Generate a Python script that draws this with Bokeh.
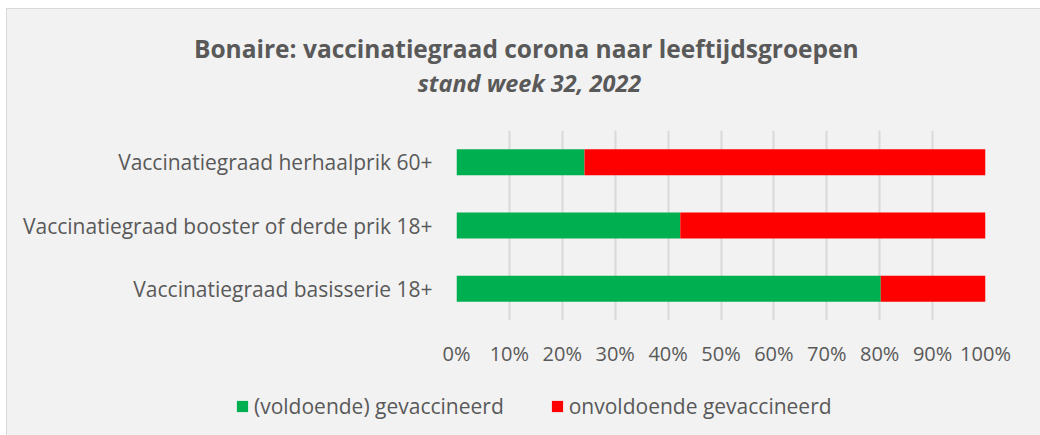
from bokeh.plotting import figure
from bokeh.layouts import column
from bokeh.models import (FactorRange, Range1d, PrintfTickFormatter, FixedTicker,
                          Legend, LegendItem, Label, ColumnDataSource)
from bokeh.embed import file_html
from bokeh.resources import INLINE

categories = ["Vaccinatiegraad basisserie 18+",
              "Vaccinatiegraad booster of derde prik 18+",
              "Vaccinatiegraad herhaalprik 60+"]
gevaccineerd = [80.2, 42.3, 24.2]
onvoldoende = [19.8, 57.7, 75.8]
series = ["(voldoende) gevaccineerd", "onvoldoende gevaccineerd"]
colors = ["#00b050", "#ff0000"]
x_ticks = [0, 10, 20, 30, 40, 50, 60, 70, 80, 90, 100]
title_text = "Bonaire: vaccinatiegraad corona  naar leeftijdsgroepen"
subtitle_text = "stand week 32, 2022"

FONT = "Open Sans"
TXT = "#595959"
BG = "#f2f2f2"
W = 1033


def blank(height):
    f = figure(width=W, height=height, x_range=Range1d(0, W), y_range=Range1d(0, height),
               output_backend="svg", toolbar_location=None, frame_align=False,
               min_border_left=0, min_border_right=0, min_border_top=0, min_border_bottom=0)
    f.axis.visible = False
    f.grid.visible = False
    f.background_fill_color = BG
    f.border_fill_color = BG
    f.outline_line_color = None
    return f


# ---- titles ----
tf = blank(111)
tf.add_layout(Label(x=522, y=72, text=title_text, text_align="center",
                    text_baseline="middle", text_font=FONT, text_font_style="bold",
                    text_font_size="24.5px", text_color=TXT))
tf.add_layout(Label(x=522, y=38, text=subtitle_text, text_align="center",
                    text_baseline="middle", text_font=FONT,
                    text_font_style="bold italic",
                    text_font_size="23.5px", text_color=TXT))

# ---- main chart ----
source = ColumnDataSource(dict(cat=categories, g=gevaccineerd, o=onvoldoende))

p = figure(width=W, height=261,
           y_range=FactorRange(*categories, range_padding=0),
           x_range=Range1d(0, 100),
           output_backend="svg", toolbar_location=None, frame_align=False,
           min_border_left=449, min_border_right=55,
           min_border_top=10, min_border_bottom=61)
p.background_fill_color = BG
p.border_fill_color = BG
p.outline_line_color = None

rs = p.hbar_stack(["g", "o"], y="cat", height=0.41, color=colors,
                  line_color=None, source=source)

p.xgrid.ticker = FixedTicker(ticks=x_ticks)
p.xgrid.grid_line_color = "#d9d9d9"
p.xgrid.grid_line_width = 2
p.ygrid.grid_line_color = None

p.xaxis.ticker = FixedTicker(ticks=x_ticks)
p.xaxis.formatter = PrintfTickFormatter(format="%d%%")
p.xaxis.axis_line_color = None
p.xaxis.major_tick_line_color = None
p.xaxis.minor_tick_line_color = None
p.xaxis.major_label_standoff = 13
p.xaxis.major_label_text_font = FONT
p.xaxis.major_label_text_font_size = "20px"
p.xaxis.major_label_text_color = TXT

p.yaxis.axis_line_color = None
p.yaxis.major_tick_line_color = None
p.yaxis.minor_tick_line_color = None
p.yaxis.major_label_standoff = 18
p.yaxis.major_label_text_font = FONT
p.yaxis.major_label_text_font_size = "21px"
p.yaxis.major_label_text_color = TXT

# ---- legend (its own strip, with hidden copies of the two series) ----
lf = blank(54)
lr = [lf.hbar(y=0, right=col, height=1, source=source, color=c,
              line_color=None, visible=False)
      for col, c in zip(["g", "o"], colors)]
legend = Legend(items=[LegendItem(label=s, renderers=[r]) for s, r in zip(series, lr)],
                orientation="horizontal", location=(228, 15),
                padding=0, margin=0, spacing=46,
                glyph_width=14, glyph_height=14, label_standoff=5,
                label_text_font=FONT, label_text_font_size="21px",
                label_text_color=TXT, border_line_color=None,
                background_fill_alpha=0, inactive_fill_alpha=0)
lf.add_layout(legend, "center")

layout = column(tf, p, lf, spacing=0)
layout.styles = {"margin-left": "6px", "margin-top": "8px", "background-color": BG,
                 "border-left": "1px solid #d9d9d9", "border-top": "1px solid #d9d9d9"}

open("out.html", "w").write(file_html(layout, INLINE))
